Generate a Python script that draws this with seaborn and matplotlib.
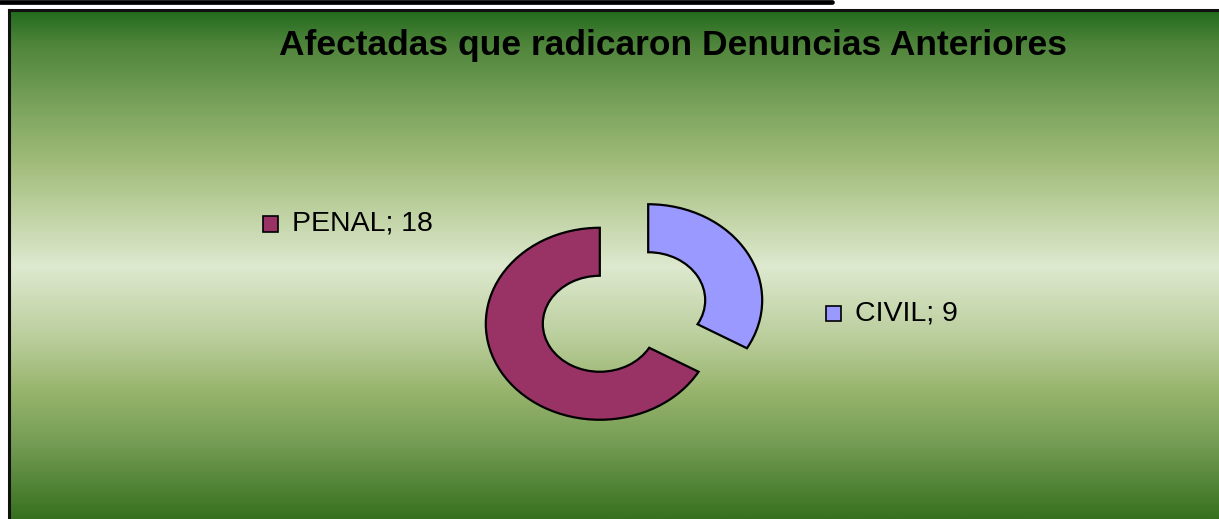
import numpy as np
import matplotlib
matplotlib.use("Agg")
import matplotlib.pyplot as plt
from matplotlib.colors import LinearSegmentedColormap
from matplotlib.patches import Rectangle
from matplotlib.lines import Line2D
import seaborn as sns

# ---- data ----
categories = ["CIVIL", "PENAL"]
values = [9, 18]
colors = ["#9999FF", "#993366"]
title = "Afectadas que radicaron Denuncias Anteriores"

sns.set_theme(style="white")
plt.rcParams['font.family'] = ['Liberation Sans', 'DejaVu Sans']

W, H = 1219, 519
fig = plt.figure(figsize=(W / 100, H / 100), dpi=100)
fig.patch.set_facecolor("white")

def fx(px):
    return px / W

def fy(py):
    return 1 - py / H

# background gradient panel
bg = fig.add_axes([fx(9), 0, 1 - fx(9), 1 - 10 / H], zorder=0)
cmap = LinearSegmentedColormap.from_list(
    "g", [(0.0, "#236b1d"), (0.066, "#4f853b"), (0.196, "#7da55e"),
          (0.295, "#9fbb78"), (0.39, "#bdd09f"), (0.504, "#dee9cf"),
          (0.65, "#b9cd9a"), (0.75, "#97b46c"), (0.85, "#769d55"),
          (1.0, "#37711f")])
grad = np.linspace(0, 1, 512).reshape(-1, 1)
bg.imshow(grad, aspect="auto", cmap=cmap, extent=[0, 1, 1, 0])
bg.set_xlim(0, 1)
bg.set_ylim(1, 0)
bg.set_xticks([])
bg.set_yticks([])
for s in ["top", "left"]:
    bg.spines[s].set_color("#111111")
    bg.spines[s].set_linewidth(2.2)
for s in ["right", "bottom"]:
    bg.spines[s].set_visible(False)

# top black rule
fig.add_artist(Line2D([0, fx(832)], [fy(2.2), fy(2.2)], color="black", lw=3.4,
                      transform=fig.transFigure))

# donut
cx, cy = 624, 312
sx, sy = 114, 96
ax = fig.add_axes([fx(cx - 2 * sx), fy(cy + 2 * sy), 4 * sx / W, 4 * sy / H], zorder=2)
ax.pie(values, colors=colors, startangle=90, counterclock=False,
       explode=[0.245, 0.245],
       wedgeprops=dict(width=0.5, edgecolor="black", linewidth=1.6))
ax.set_aspect("auto")
ax.set_xlim(-2, 2)
ax.set_ylim(-2, 2)
ax.axis("off")
ax.patch.set_alpha(0)

# title
fig.text(fx(673), fy(45), title, ha="center", va="center",
         fontsize=25.5, fontweight="bold", color="black")

# data labels with legend keys
label_pos = {"CIVIL": (826, 313), "PENAL": (263, 224)}
for cat, val, col in zip(categories, values, colors):
    x0, yc = label_pos[cat]
    fig.add_artist(Rectangle((fx(x0), fy(yc + 7.5)), 15 / W, 15 / H,
                             facecolor=col, edgecolor="black", lw=1.2,
                             transform=fig.transFigure, zorder=5))
    fig.text(fx(x0 + 29), fy(yc), f"{cat}; {val}", ha="left", va="center",
             fontsize=20.5, color="black")

fig.savefig("out.png", dpi=100)
